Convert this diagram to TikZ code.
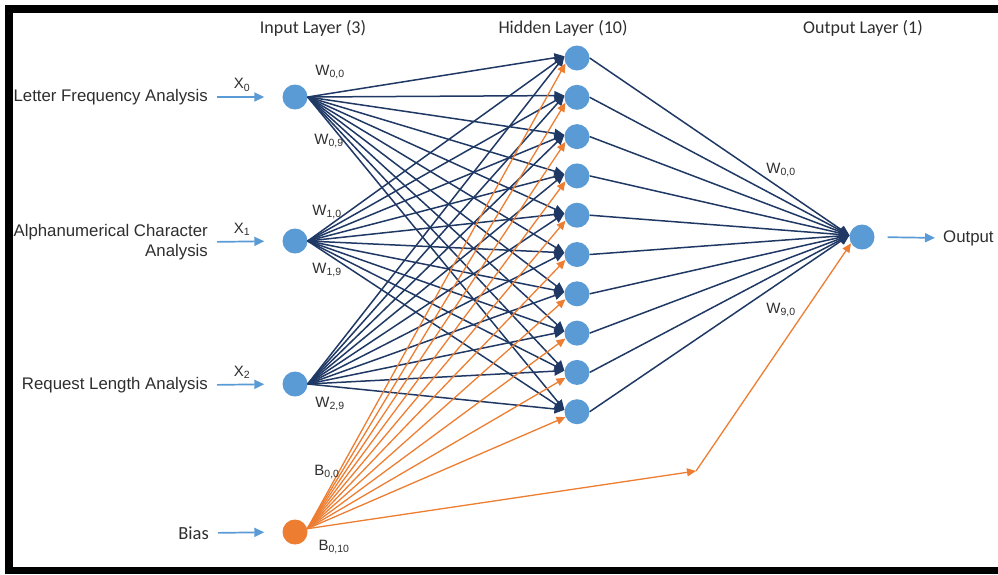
\documentclass[tikz,border=0pt]{standalone}
\usepackage{fontspec}
\setmainfont{Liberation Sans}
\newfontfamily\calib{Carlito}
\usetikzlibrary{arrows.meta}

\definecolor{nodeblue}{HTML}{5B9BD5}
\definecolor{navy}{HTML}{1F3864}
\definecolor{biasorange}{HTML}{ED7D31}
\definecolor{txt}{HTML}{2E2E2E}

\begin{document}
\begin{tikzpicture}[x=1pt,y=-1pt,
  neuron/.style={circle, fill=nodeblue, minimum size=25pt, inner sep=0pt},
  biasneuron/.style={neuron, fill=biasorange},
  wline/.style={draw=navy, line width=1.5pt, -{Triangle[length=10pt,width=9pt]}},
  bline/.style={draw=biasorange, line width=1.3pt, -{Triangle[length=9pt,width=8pt]}},
  inarrow/.style={draw=nodeblue, line width=1.7pt, -{Triangle[length=10pt,width=9pt]}},
  feat/.style={font=\fontsize{16.8}{20}\selectfont, text=txt, align=right, anchor=east, inner sep=0pt},
  title/.style={font=\calib\fontsize{18}{21}\selectfont, text=txt, inner sep=0pt},
  wlabel/.style={font=\fontsize{15}{17}\selectfont, text=txt, inner sep=0pt},
]
\useasboundingbox (0,0) rectangle (998,574);

% frame (open on the right)
\fill[black] (5,5) rectangle (998,13);
\fill[black] (5,5) rectangle (13,574);
\fill[black] (5,567) rectangle (998,574);

% layer titles
\node[title] (tin)  at (313,28) {Input Layer (3)};
\node[title] (thid) at (563,28) {Hidden Layer (10)};
\node[title] (tout) at (863,28) {Output Layer (1)};

% neurons
\node[neuron] (i0) at (295,97) {};
\node[neuron] (i1) at (295,241) {};
\node[neuron] (i2) at (295,384) {};
\node[biasneuron] (b) at (295,532) {};
\foreach \k in {0,...,9}
  \node[neuron] (h\k) at (577,{58+39.3*\k}) {};
\node[neuron] (o) at (862,237) {};
\coordinate (bend) at (696,471);

% feature labels
\node[feat] (f0) at (208,97) {Letter Frequency Analysis};
\node[feat] (f1) at (208,242) {Alphanumerical Character\\Analysis};
\node[feat] (f2) at (208,385) {Request Length Analysis};
\node[title, font=\calib\fontsize{18.5}{21}\selectfont, anchor=east] (fb) at (209,533) {Bias};
\node[feat, anchor=west] (out) at (943,238) {Output};

% input arrows
\draw[inarrow, shorten <=9pt, shorten >=18pt] (f0.east) -- (i0.west)
  node[wlabel, midway, above=5pt, xshift=-3pt] (x0) {X\textsubscript{0}};
\draw[inarrow, shorten <=9pt, shorten >=18pt] (f1.east) -- (i1.west)
  node[wlabel, midway, above=5pt, xshift=-3pt] (x1) {X\textsubscript{1}};
\draw[inarrow, shorten <=9pt, shorten >=18pt] (f2.east) -- (i2.west)
  node[wlabel, midway, above=5pt, xshift=-3pt] (x2) {X\textsubscript{2}};
\draw[inarrow, shorten <=9pt, shorten >=18pt] (fb.east) -- (b.west);
\draw[inarrow, shorten <=13pt, shorten >=8pt] (o.east) -- (out.west);

% input -> hidden weights
\foreach \i in {0,1,2}
  \foreach \k in {0,...,9}
    \draw[wline] (i\i.east) -- (h\k.172);

% bias -> hidden
\foreach \k in {0,...,9}
  \draw[bline] (b.15) -- (h\k.205);
\draw[bline] (b.15) -- (bend);
\draw[bline] (bend) -- (o.210);

% hidden -> output
\foreach \k in {0,...,9}
  \draw[wline] (h\k.east) -- (o.172);

% weight labels
\node[wlabel] (w00) at (330,72) {W\textsubscript{0,0}};
\node[wlabel] (w09) at (329,141) {W\textsubscript{0,9}};
\node[wlabel] (w10) at (327,212) {W\textsubscript{1,0}};
\node[wlabel] (w19) at (327,270) {W\textsubscript{1,9}};
\node[wlabel] (w29) at (330,404) {W\textsubscript{2,9}};
\node[wlabel] (b00) at (327,472) {B\textsubscript{0,0}};
\node[wlabel] (b010) at (334,547) {B\textsubscript{0,10}};
\node[wlabel] (v00) at (781,170) {W\textsubscript{0,0}};
\node[wlabel] (v90) at (781,310) {W\textsubscript{9,0}};
\end{tikzpicture}
\end{document}
